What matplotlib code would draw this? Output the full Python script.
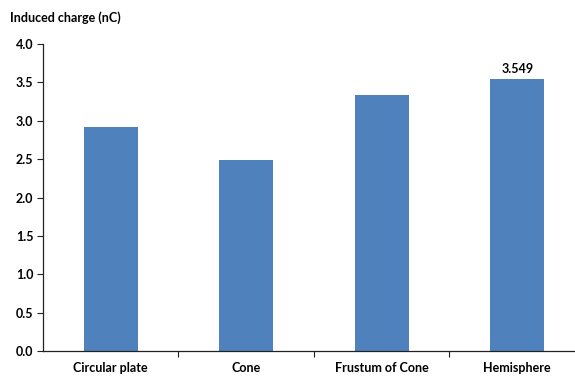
import matplotlib
matplotlib.use("Agg")
import matplotlib.pyplot as plt

categories = ["Circular plate", "Cone", "Frustum of Cone", "Hemisphere"]
charge_nC = [2.92, 2.49, 3.33, 3.549]
y_ticks = [0.0, 0.5, 1.0, 1.5, 2.0, 2.5, 3.0, 3.5, 4.0]

plt.rcParams["font.family"] = ["Lato", "DejaVu Sans"]
plt.rcParams["font.weight"] = "bold"

fig = plt.figure(figsize=(5.75, 3.78), dpi=100)
ax = fig.add_axes([43 / 575, 26.7 / 378, 542 / 575, 307.3 / 378])

x = range(len(categories))
ax.bar(x, charge_nC, width=0.4, color="#4F81BD", zorder=2)

ax.set_xlim(-0.5, len(categories) - 0.5)
ax.set_ylim(0, 4.0)
ax.set_yticks(y_ticks)
ax.set_yticklabels([f"{v:.1f}" for v in y_ticks], fontsize=9, fontweight="bold")

# category labels at bar centres, tick marks on category boundaries
ax.set_xticks(list(x))
ax.set_xticklabels(categories, fontsize=9, fontweight="bold")
ax.tick_params(axis="x", which="major", length=0, pad=8)
ax.set_xticks([i + 0.5 for i in range(len(categories) - 1)], minor=True)
ax.tick_params(axis="x", which="minor", length=4, width=0.8, direction="out", color="#222222")
ax.tick_params(axis="y", length=4, width=0.8, direction="out", color="#222222", pad=3)

for side in ("top", "right"):
    ax.spines[side].set_visible(False)
for side in ("left", "bottom"):
    ax.spines[side].set_color("#222222")
    ax.spines[side].set_linewidth(0.9)

# value label on the highest bar
ax.text(3, charge_nC[3] + 0.05, f"{charge_nC[3]:.3f}", ha="center", va="bottom",
        fontsize=9, fontweight="bold")

fig.text(10 / 575, 1 - 18 / 378, "Induced charge (nC)", ha="left", va="center",
         fontsize=9, fontweight="bold")

fig.savefig("out.png", dpi=100)
